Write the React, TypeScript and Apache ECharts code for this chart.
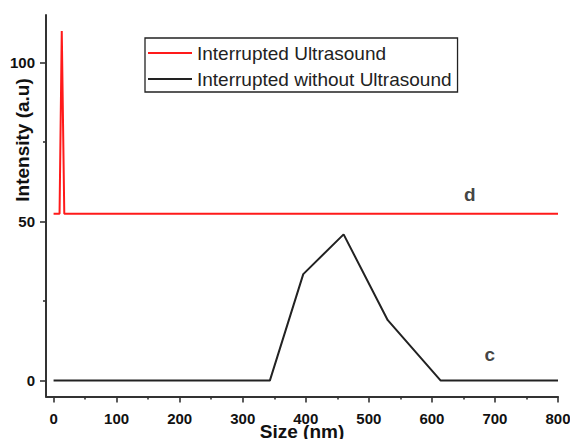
import React, { useEffect, useRef } from "react";
import * as echarts from "echarts";

const redName = "Interrupted Ultrasound";
const blackName = "Interrupted without Ultrasound";

const redSize = [0, 9.5, 13, 17, 800];
const redIntensity = [52.5, 52.5, 110, 52.5, 52.5];

const blackSize = [0, 343, 396, 460, 530, 614, 800];
const blackIntensity = [0, 0, 33.5, 46, 19, 0, 0];

const curveLabels = ["d", "c"];
const curveLabelSize = [660, 692];
const curveLabelIntensity = [58.6, 8.2];

const xMajorTicks = [0, 100, 200, 300, 400, 500, 600, 700, 800];
const xMinorTicks = [50, 150, 250, 350, 450, 550, 650, 750];
const yMajorTicks = [0, 50, 100];
const yMinorTicks = [25, 75];

const FONT = "'Liberation Sans', Arial, Helvetica, sans-serif";
const AXIS_COLOR = "#333";

export default function App() {
  const ref = useRef<HTMLDivElement>(null);
  useEffect(() => {
    if (!ref.current) return;
    const chart = echarts.init(ref.current, undefined, { renderer: "svg" });
    const xRange = { min: -12, max: 800 };
    const yRange = { min: -5, max: 115 };
    chart.setOption({
      animation: false,
      backgroundColor: "#fff",
      textStyle: { fontFamily: FONT },
      grid: { left: 46, top: 15, right: 12, bottom: 42.5, containLabel: false, outerBoundsMode: "none" },
      legend: {
        data: [
          { name: redName, icon: "rect" },
          { name: blackName, icon: "rect" },
        ],
        orient: "vertical",
        left: 145,
        top: 38,
        itemWidth: 44,
        itemHeight: 2,
        itemGap: 4,
        padding: [4, 6, 2, 3],
        borderColor: "#222",
        borderWidth: 1.3,
        borderRadius: 0,
        textStyle: { fontSize: 19, color: "#222", fontFamily: FONT, lineHeight: 22 },
      },
      xAxis: [
        {
          type: "value",
          ...xRange,
          name: "Size (nm)",
          nameLocation: "middle",
          nameGap: 25,
          nameMoveOverlap: false,
          nameTextStyle: { fontSize: 19, fontWeight: "bold", color: "#111", fontFamily: FONT },
          splitLine: { show: false },
          axisLine: { show: true, onZero: false, lineStyle: { color: AXIS_COLOR, width: 2 } },
          axisTick: { show: true, inside: false, length: 6, customValues: xMajorTicks, lineStyle: { color: AXIS_COLOR, width: 1.6 } },
          axisLabel: { show: true, customValues: xMajorTicks, margin: 14, fontSize: 15, fontWeight: "bold", color: "#111", fontFamily: FONT },
        },
        {
          type: "value",
          ...xRange,
          position: "bottom",
          splitLine: { show: false },
          axisLine: { show: false, onZero: false },
          axisTick: { show: true, inside: false, length: 3, customValues: xMinorTicks, lineStyle: { color: AXIS_COLOR, width: 1.6 } },
          axisLabel: { show: false, customValues: xMinorTicks },
        },
      ],
      yAxis: [
        {
          type: "value",
          ...yRange,
          splitLine: { show: false },
          axisLine: { show: true, onZero: false, lineStyle: { color: AXIS_COLOR, width: 2 } },
          axisTick: { show: true, inside: false, length: 6, customValues: yMajorTicks, lineStyle: { color: AXIS_COLOR, width: 1.6 } },
          axisLabel: { show: true, customValues: yMajorTicks, margin: 11, fontSize: 15, fontWeight: "bold", color: "#111", fontFamily: FONT },
        },
        {
          type: "value",
          ...yRange,
          position: "left",
          splitLine: { show: false },
          axisLine: { show: false, onZero: false },
          axisTick: { show: true, inside: false, length: 3, customValues: yMinorTicks, lineStyle: { color: AXIS_COLOR, width: 1.6 } },
          axisLabel: { show: false, customValues: yMinorTicks },
        },
      ],
      graphic: [
        {
          type: "text",
          x: 22,
          y: 140,
          rotation: Math.PI / 2,
          style: {
            text: "Intensity (a.u)",
            fontSize: 19,
            fontWeight: "bold",
            fill: "#111",
            fontFamily: FONT,
            align: "center",
            verticalAlign: "middle",
          },
        },
      ],
      series: [
        {
          name: redName,
          type: "line",
          symbol: "none",
          data: redSize.map((x, i) => [x, redIntensity[i]]),
          lineStyle: { color: "#ff1a1a", width: 2 },
          itemStyle: { color: "#ff1a1a" },
          z: 3,
        },
        {
          name: blackName,
          type: "line",
          symbol: "none",
          data: blackSize.map((x, i) => [x, blackIntensity[i]]),
          lineStyle: { color: "#222", width: 2 },
          itemStyle: { color: "#222" },
          z: 2,
        },
        {
          name: "labels",
          type: "scatter",
          symbolSize: 0,
          silent: true,
          data: curveLabels.map((n, i) => ({ name: n, value: [curveLabelSize[i], curveLabelIntensity[i]] })),
          label: {
            show: true,
            position: "inside",
            formatter: (p: any) => p.name,
            fontSize: 19,
            fontWeight: "bold",
            color: "#111",
            fontFamily: FONT,
          },
        },
      ],
    });
    return () => chart.dispose();
  }, []);
  return (
    <div
      ref={ref}
      style={{ position: "fixed", left: 0, top: 0, width: 570, height: 439, background: "#fff" }}
    />
  );
}
